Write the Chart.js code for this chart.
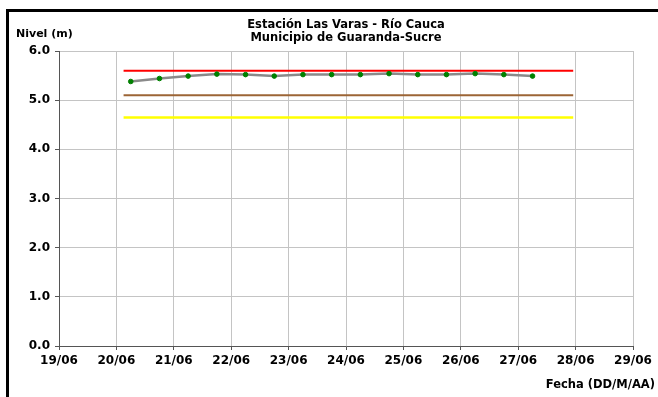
<!DOCTYPE html>
<html lang="es">
<head>
<meta charset="utf-8">
<title>Estación Las Varas - Río Cauca</title>
<script src="https://cdn.jsdelivr.net/npm/chart.js@4.4.1/dist/chart.umd.min.js"></script>
<style>
  html, body { margin: 0; padding: 0; background: #fff; }
  #wrap { position: relative; width: 658px; height: 397px; }
</style>
</head>
<body>
<div id="wrap"><canvas id="grafico" width="658" height="397"></canvas></div>
<script>
// Lecturas de nivel, dos por día (06:00 y 18:00)
const fechas = [
    '20/06 06:00', '20/06 18:00', '21/06 06:00', '21/06 18:00', '22/06 06:00',
    '22/06 18:00', '23/06 06:00', '23/06 18:00', '24/06 06:00', '24/06 18:00',
    '25/06 06:00', '25/06 18:00', '26/06 06:00', '26/06 18:00', '27/06 06:00'
];
const niveles = [5.38, 5.44, 5.49, 5.53, 5.52, 5.49, 5.52, 5.52, 5.52, 5.54, 5.52, 5.52, 5.54, 5.52, 5.49];

// Cotas de alerta (m)
const alertas = ['Roja', 'Naranja', 'Amarilla'];
const cotasAlerta = [5.60, 5.10, 4.65];
const inicioAlerta = '20/06 03:00';
const finAlerta = '27/06 23:00';

// Eje X
const diasEje = [19, 20, 21, 22, 23, 24, 25, 26, 27, 28, 29];
const etiquetasEje = ['19/06', '20/06', '21/06', '22/06', '23/06', '24/06', '25/06', '26/06', '27/06', '28/06', '29/06'];

// Eje Y
const nivelesEje = [0, 1, 2, 3, 4, 5, 6];

const titulo = ['Estación Las Varas - Río Cauca', 'Municipio de Guaranda-Sucre'];
const tituloY = 'Nivel (m)';
const tituloX = 'Fecha (DD/M/AA)';

const coloresAlerta = ['#ff0000', '#9c6536', '#ffff00'];
const grosorAlerta = [2, 2, 2.5];

// "DD/MM hh:mm" -> día con fracción
function aDia(f) {
    const [d, h] = f.split(' ');
    const dd = parseInt(d.split('/')[0], 10);
    const [hh, mm] = h.split(':').map(Number);
    return dd + (hh + mm / 60) / 24;
}

const datosAlerta = cotasAlerta.map((v, i) => ({
    label: 'Alerta ' + alertas[i],
    data: [{ x: aDia(inicioAlerta), y: v }, { x: aDia(finAlerta), y: v }],
    borderColor: coloresAlerta[i],
    borderWidth: grosorAlerta[i],
    pointRadius: 0,
    order: 2
}));

const datosNivel = {
    label: 'Nivel',
    data: fechas.map((f, i) => ({ x: aDia(f), y: niveles[i] })),
    borderColor: '#8a8a8a',
    borderWidth: 2.5,
    pointRadius: 2.3,
    pointBackgroundColor: '#008000',
    pointBorderColor: '#008000',
    pointBorderWidth: 1,
    tension: 0,
    order: 1
};

// Marco y textos del gráfico
const marco = {
    id: 'marco',
    beforeDraw(chart) {
        const ctx = chart.ctx;
        ctx.save();
        ctx.fillStyle = '#fff';
        ctx.fillRect(0, 0, chart.width, chart.height);
        ctx.fillStyle = '#000';
        ctx.fillRect(6, 9, chart.width - 6, 3);
        ctx.fillRect(6, 9, 3, chart.height - 9);
        ctx.restore();
    },
    afterDraw(chart) {
        const { ctx, chartArea } = chart;
        ctx.save();
        ctx.fillStyle = '#000';
        ctx.textBaseline = 'alphabetic';
        ctx.font = 'bold 11.5px "DejaVu Sans"';
        ctx.textAlign = 'center';
        const cx = (chartArea.left + chartArea.right) / 2;
        ctx.fillText(titulo[0], cx, 28);
        ctx.fillText(titulo[1], cx, 40.5);
        ctx.font = 'bold 11px "DejaVu Sans"';
        ctx.textAlign = 'left';
        ctx.fillText(tituloY, 16, 37);
        ctx.font = 'bold 11.5px "DejaVu Sans"';
        ctx.textAlign = 'right';
        ctx.fillText(tituloX, 655, 387.5);
        ctx.restore();
    }
};

const fuenteTicks = { family: '"DejaVu Sans"', size: 12, weight: 'bold' };

new Chart(document.getElementById('grafico'), {
    type: 'line',
    data: { datasets: [datosNivel, ...datosAlerta] },
    options: {
        responsive: false,
        animation: false,
        devicePixelRatio: 1,
        layout: { padding: { top: 51, right: 25, left: 0, bottom: 0 } },
        plugins: { legend: { display: false }, tooltip: { enabled: false } },
        scales: {
            x: {
                type: 'linear',
                min: diasEje[0],
                max: diasEje[diasEje.length - 1],
                afterBuildTicks: (s) => { s.ticks = diasEje.map(v => ({ value: v })); },
                ticks: {
                    callback: (v, i) => etiquetasEje[i],
                    font: fuenteTicks,
                    color: '#000',
                    padding: 4,
                    maxRotation: 0,
                    autoSkip: false
                },
                grid: { color: '#c4c4c4', tickColor: '#555', tickLength: 4 },
                border: { color: '#555', width: 1 },
                afterFit: (s) => { s.height = 51; s.paddingLeft = 0; s.paddingRight = 0; }
            },
            y: {
                min: nivelesEje[0],
                max: nivelesEje[nivelesEje.length - 1],
                afterBuildTicks: (s) => { s.ticks = nivelesEje.map(v => ({ value: v })); },
                ticks: {
                    callback: (v) => v.toFixed(1),
                    font: fuenteTicks,
                    color: '#000',
                    padding: 5
                },
                grid: { color: '#c4c4c4', tickColor: '#555', tickLength: 4 },
                border: { color: '#555', width: 1 },
                afterFit: (s) => { s.width = 59; }
            }
        }
    },
    plugins: [marco]
});
</script>
</body>
</html>
